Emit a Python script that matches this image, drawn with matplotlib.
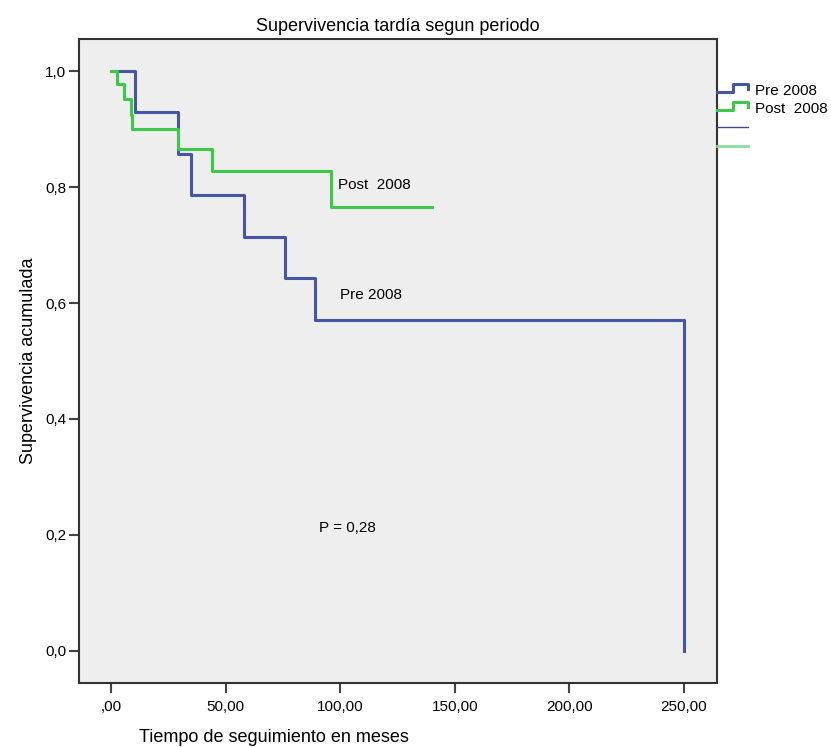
import matplotlib
matplotlib.use('Agg')
import matplotlib.pyplot as plt
from matplotlib.lines import Line2D

plt.rcParams['font.family'] = ['Liberation Sans', 'DejaVu Sans']

# Kaplan-Meier steps
pre_t = [0, 10.5, 29, 35, 58, 76, 89, 250]
pre_s = [1.0, 0.929, 0.857, 0.786, 0.714, 0.643, 0.571, 0.0]

post_t = [0, 2.5, 5.5, 8.5, 9.0, 29, 44, 96, 140]
post_s = [1.0, 0.977, 0.952, 0.925, 0.900, 0.866, 0.828, 0.765, 0.765]

x_ticks = [0, 50, 100, 150, 200, 250]
x_labels = [',00', '50,00', '100,00', '150,00', '200,00', '250,00']
y_ticks = [0.0, 0.2, 0.4, 0.6, 0.8, 1.0]
y_labels = ['0,0', '0,2', '0,4', '0,6', '0,8', '1,0']

blue = '#4656A6'
green = '#3DC84A'

W, H = 831, 747
fig = plt.figure(figsize=(W / 100, H / 100), dpi=100)
ax = fig.add_axes([79 / W, 1 - 683 / H, (717 - 79) / W, (683 - 39) / H])
ax.set_facecolor('#EEEEEE')

ax.step(pre_t, pre_s, where='post', color=blue, lw=2.2)
ax.step(post_t, post_s, where='post', color=green, lw=2.2)

ax.set_xlim(-14.0, 264.4)
ax.set_ylim(-0.0552, 1.0552)
ax.set_xticks(x_ticks)
ax.set_xticklabels(x_labels)
ax.set_yticks(y_ticks)
ax.set_yticklabels(y_labels)
ax.tick_params(direction='out', length=7, width=1.5, labelsize=11, pad=2, color='#444444')
ax.tick_params(axis='x', pad=5)
for sp in ax.spines.values():
    sp.set_linewidth(1.5)
    sp.set_color('#333333')

ax.set_title('Supervivencia tardía segun periodo', fontsize=13, pad=6)
ax.set_ylabel('Supervivencia acumulada', fontsize=13, labelpad=6)
fig.text(274 / W, 1 - 738 / H, 'Tiempo de seguimiento en meses', fontsize=13,
         ha='center', va='center')

ax.text(99, 0.803, 'Post  2008', fontsize=11, va='center')
ax.text(100, 0.614, 'Pre 2008', fontsize=11, va='center')
ax.text(90.7, 0.212, 'P = 0,28', fontsize=11, va='center')

# legend drawn in figure pixels
def fx(px):
    return px / W

def fy(py):
    return 1 - py / H

for y0, col, lab in [(92, blue, 'Pre 2008'), (110, green, 'Post  2008')]:
    xs = [fx(717), fx(733), fx(733), fx(748), fx(748)]
    ys = [fy(y0), fy(y0), fy(y0 - 8), fy(y0 - 8), fy(y0 - 3)]
    fig.add_artist(Line2D(xs, ys, color=col, lw=2.2))
    fig.text(fx(755), fy(y0 - 1), lab, fontsize=11, va='center')

fig.add_artist(Line2D([fx(717), fx(748)], [fy(127), fy(127)], color='#3A4A90', lw=1))
fig.add_artist(Line2D([fx(717), fx(748)], [fy(146), fy(146)], color='#8EDC9E', lw=2))

fig.savefig('out.png', dpi=100)
